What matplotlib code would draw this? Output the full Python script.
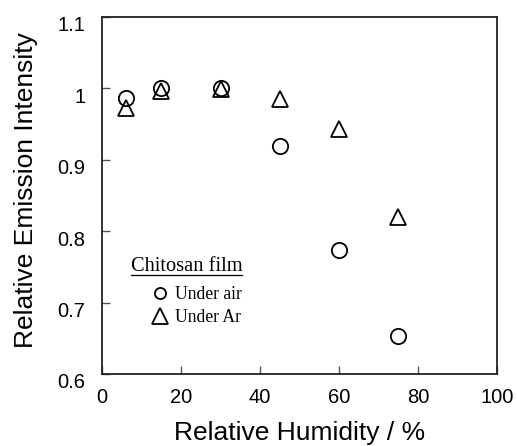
import matplotlib
matplotlib.use("Agg")
import matplotlib.pyplot as plt
from matplotlib.lines import Line2D
import matplotlib.transforms as mtransforms

# Data
humidity = [6, 15, 30, 45, 60, 75]
under_air = [0.986, 1.000, 1.000, 0.920, 0.774, 0.653]
under_ar = [0.973, 0.996, 0.999, 0.985, 0.943, 0.820]
x_ticks = [0, 20, 40, 60, 80, 100]
y_ticks = [0.6, 0.7, 0.8, 0.9, 1.0, 1.1]
y_tick_labels = ["0.6", "0.7", "0.8", "0.9", "1", "1.1"]

plt.rcParams['font.family'] = ['Liberation Sans', 'DejaVu Sans']

fig = plt.figure(figsize=(5.17, 4.46), dpi=100)
ax = fig.add_axes([102/517, 1 - 374/446, 395/517, 357/446])

ax.plot(humidity, under_air, linestyle='none', marker='o', markersize=11,
        markerfacecolor='none', markeredgecolor='black', markeredgewidth=1.3,
        label='Under air', clip_on=False)
ax.plot(humidity, under_ar, linestyle='none', marker='^', markersize=12,
        markerfacecolor='none', markeredgecolor='black', markeredgewidth=1.3,
        label='Under Ar', clip_on=False)

ax.set_xlim(0, 100)
ax.set_ylim(0.6, 1.1)
ax.set_xticks(x_ticks)
ax.set_yticks(y_ticks)
ax.set_yticklabels(y_tick_labels)
ax.tick_params(direction='in', length=6, width=1, color='#555555',
               labelsize=14.5, top=False, right=False)
ax.tick_params(axis='x', pad=10)
ax.tick_params(axis='y', pad=12)
for s in ax.spines.values():
    s.set_linewidth(1.3)
    s.set_color('#222222')

# y tick labels sit slightly below their ticks in the reference
offset = mtransforms.ScaledTranslation(0, -7/100, fig.dpi_scale_trans)
for lab in ax.get_yticklabels():
    lab.set_transform(lab.get_transform() + offset)

ax.set_xlabel('Relative Humidity / %', fontsize=19, labelpad=10)
ax.set_ylabel('Relative Emission Intensity', fontsize=19, labelpad=14)
ax.yaxis.label.set_y(0.515)

serif = ['Liberation Serif', 'DejaVu Serif']
title = ax.text(0.073, 0.30, 'Chitosan film', transform=ax.transAxes,
                fontsize=14.7, family=serif, va='center', ha='left')

leg = ax.legend(loc='center left', bbox_to_anchor=(0.105, 0.19),
                frameon=False, prop={'family': serif, 'size': 12.7},
                handletextpad=0.3, labelspacing=0.35, handlelength=1.1,
                borderaxespad=0)
hs = leg.legend_handles
hs[0].set_markersize(8)
hs[1].set_markersize(11)

fig.canvas.draw()
bb = title.get_window_extent(fig.canvas.get_renderer())
inv = fig.transFigure.inverted()
(x0, y0), (x1, y1) = inv.transform([(bb.x0, bb.y0), (bb.x1, bb.y0)])
fig.add_artist(Line2D([x0, x1], [y0 + 0.004, y0 + 0.004], color='black',
                      linewidth=0.9, transform=fig.transFigure))

fig.savefig('out.png', dpi=100)
